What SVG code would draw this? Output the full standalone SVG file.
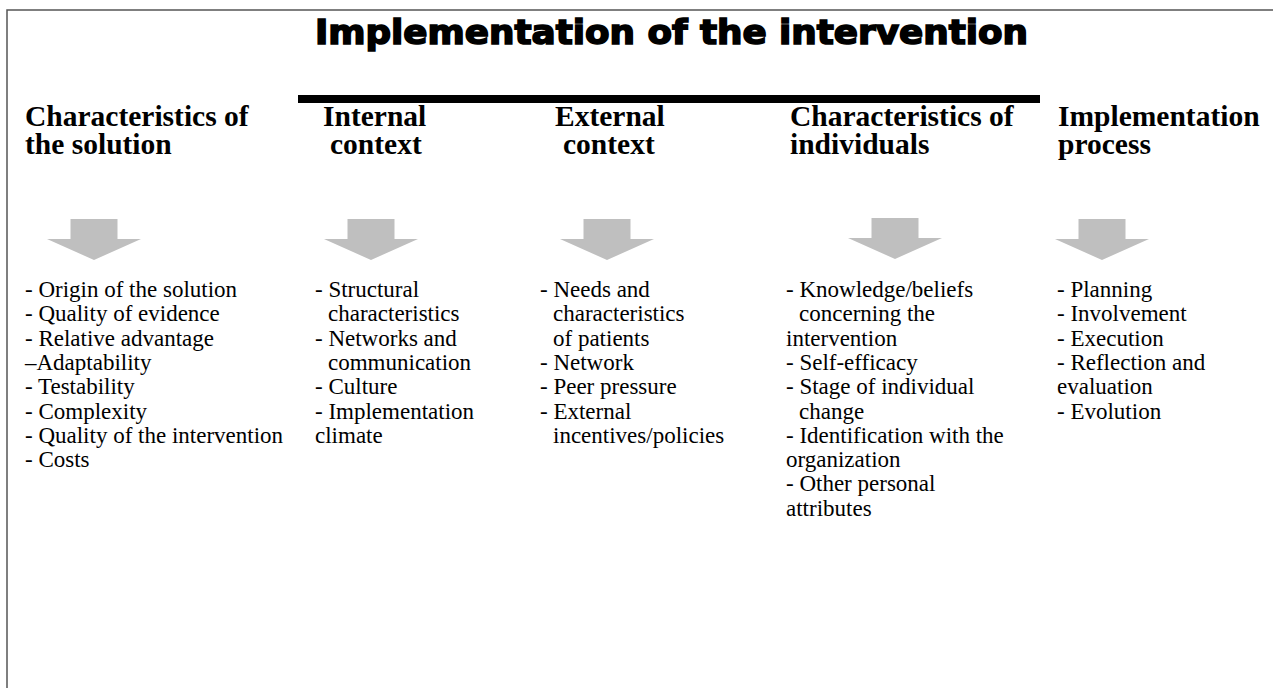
<svg xmlns="http://www.w3.org/2000/svg" width="1273" height="688" viewBox="0 0 1273 688">
<defs>
<style>
.frame{fill:none;stroke:#555;stroke-width:1.5}
.title{font-family:"DejaVu Sans","Liberation Sans",sans-serif;font-weight:bold;font-size:33px;fill:#000;stroke:#000;stroke-width:1.6}
.head{font-family:"Liberation Serif","Times New Roman",serif;font-weight:bold;font-size:29.5px;fill:#000}
.body{font-family:"Liberation Serif","Times New Roman",serif;font-size:23px;fill:#000}
.arrow{fill:#BFBFBF}
</style>
<path id="arr" class="arrow" d="M-23.5,0 H23.5 V20 H47 L0,41 L-47,20 H-23.5 Z"/>
</defs>
<rect width="1273" height="688" fill="#fff"/>
<path class="frame" d="M1273,10 H7 V688"/>
<g id="title">
<text class="title" x="315" y="44" textLength="713" lengthAdjust="spacingAndGlyphs">Implementation of the intervention</text>
<rect x="298" y="95" width="742" height="8" fill="#000"/>
</g>
<g id="col-solution">
<text class="head" x="25" y="126">Characteristics of<tspan x="25" dy="28">the solution</tspan></text>
<text class="body" x="25" y="297">- Origin of the solution<tspan x="25" dy="24.3">- Quality of evidence</tspan><tspan x="25" dy="24.3">- Relative advantage</tspan><tspan x="25" dy="24.3">–Adaptability</tspan><tspan x="25" dy="24.3">- Testability</tspan><tspan x="25" dy="24.3">- Complexity</tspan><tspan x="25" dy="24.3">- Quality of the intervention</tspan><tspan x="25" dy="24.3">- Costs</tspan></text>
</g>
<g id="col-internal">
<text class="head" x="323" y="126">Internal<tspan x="330" dy="28">context</tspan></text>
<text class="body" x="315" y="297">- Structural<tspan x="328" dy="24.3">characteristics</tspan><tspan x="315" dy="24.3">- Networks and</tspan><tspan x="328" dy="24.3">communication</tspan><tspan x="315" dy="24.3">- Culture</tspan><tspan x="315" dy="24.3">- Implementation</tspan><tspan x="315" dy="24.3">climate</tspan></text>
</g>
<g id="col-external">
<text class="head" x="555" y="126">External<tspan x="563" dy="28">context</tspan></text>
<text class="body" x="540" y="297">- Needs and<tspan x="553" dy="24.3">characteristics</tspan><tspan x="553" dy="24.3">of patients</tspan><tspan x="540" dy="24.3">- Network</tspan><tspan x="540" dy="24.3">- Peer pressure</tspan><tspan x="540" dy="24.3">- External</tspan><tspan x="553" dy="24.3">incentives/policies</tspan></text>
</g>
<g id="col-individuals">
<text class="head" x="790" y="126">Characteristics of<tspan x="790" dy="28">individuals</tspan></text>
<text class="body" x="786" y="297">- Knowledge/beliefs<tspan x="799" dy="24.3">concerning the</tspan><tspan x="786" dy="24.3">intervention</tspan><tspan x="786" dy="24.3">- Self-efficacy</tspan><tspan x="786" dy="24.3">- Stage of individual</tspan><tspan x="799" dy="24.3">change</tspan><tspan x="786" dy="24.3">- Identification with the</tspan><tspan x="786" dy="24.3">organization</tspan><tspan x="786" dy="24.3">- Other personal</tspan><tspan x="786" dy="24.3">attributes</tspan></text>
</g>
<g id="col-process">
<text class="head" x="1058" y="126">Implementation<tspan x="1058" dy="28">process</tspan></text>
<text class="body" x="1057" y="297">- Planning<tspan x="1057" dy="24.3">- Involvement</tspan><tspan x="1057" dy="24.3">- Execution</tspan><tspan x="1057" dy="24.3">- Reflection and</tspan><tspan x="1057" dy="24.3">evaluation</tspan><tspan x="1057" dy="24.3">- Evolution</tspan></text>
</g>
<g id="connectors">
<use href="#arr" x="94" y="219"/>
<use href="#arr" x="371" y="219"/>
<use href="#arr" x="607" y="219"/>
<use href="#arr" x="895" y="218"/>
<use href="#arr" x="1102" y="219"/>
</g>
</svg>
